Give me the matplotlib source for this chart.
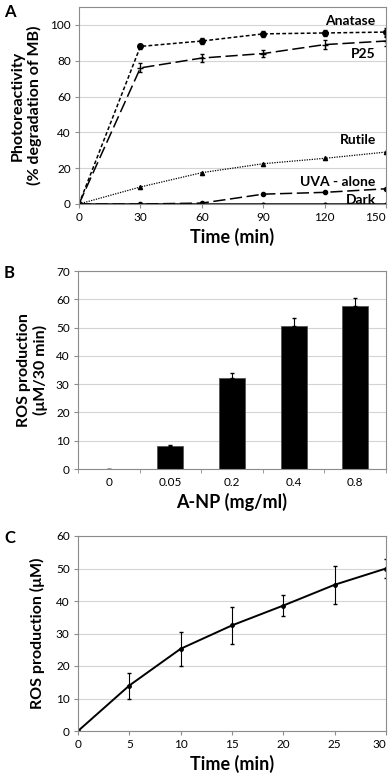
import matplotlib
matplotlib.use("Agg")
import matplotlib.pyplot as plt

plt.rcParams['font.family'] = ['Lato', 'DejaVu Sans']

# panel A data
time_a = [0, 30, 60, 90, 120, 150]
anatase = [0, 88, 91, 95, 95.5, 96]
anatase_err = [0, 1.2, 1.5, 1.5, 1.5, 2]
p25 = [0, 76, 81.5, 84, 89, 91]
p25_err = [0, 2.5, 2, 2, 2.5, 2.5]
rutile = [0, 9.5, 17.5, 22.5, 25.5, 29]
uva = [0, 0, 0.5, 5.5, 6.5, 8.5]
dark = [0, 0, 0, 0, 0, 0]

# panel B data
conc_labels = ['0', '0.05', '0.2', '0.4', '0.8']
ros_conc = [0, 8, 32.3, 50.7, 57.6]
ros_conc_err = [0, 0.5, 1.6, 2.6, 2.9]

# panel C data
time_c = [0, 5, 10, 15, 20, 25, 30]
ros_time = [0, 14, 25.3, 32.5, 38.6, 45, 50]
ros_time_err = [0, 4, 5.3, 5.7, 3.2, 5.8, 2.9]

W, H = 392, 780
fig = plt.figure(figsize=(W / 100, H / 100), dpi=100)

XL = 13      # x-label size
YL = 11.5    # y-label size
TK = 8.5     # tick size


def box(l, t, r, b):
    return [l / W, 1 - b / H, (r - l) / W, (b - t) / H]


def style(ax):
    for s in ax.spines.values():
        s.set_color('#8c8c8c')
        s.set_linewidth(0.8)
    ax.yaxis.grid(True, color='#d4d4d4', linewidth=0.8)
    ax.set_axisbelow(True)
    ax.tick_params(labelsize=TK, length=3, color='#8c8c8c', pad=3)


def push_last_left(ax):
    fig.canvas.draw()
    ax.get_xticklabels()[-1].set_ha('right')


# ---- A ----
ax = fig.add_axes(box(79, 7, 386, 204))
style(ax)
ax.errorbar(time_a, anatase, yerr=anatase_err, color='black', linestyle=(0, (2.5, 1.5)),
            marker='o', markersize=4, linewidth=1.1, capsize=1.5, elinewidth=0.8)
ax.errorbar(time_a, p25, yerr=p25_err, color='black', linestyle=(0, (8, 3)),
            marker='+', markersize=4, linewidth=1.1, capsize=1.5, elinewidth=0.8)
ax.plot(time_a, rutile, color='black', linestyle=(0, (1, 1)), marker='^',
        markersize=3, linewidth=0.9)
ax.plot(time_a, uva, color='black', linestyle=(0, (8, 3)), marker='o',
        markersize=3, linewidth=1.1)
ax.plot(time_a, dark, color='black', linestyle='-', marker='o',
        markersize=2, linewidth=1.1)
ax.set_xlim(0, 150)
ax.set_ylim(0, 110)
ax.set_xticks(time_a)
ax.set_yticks(range(0, 101, 20))
ax.set_xlabel('Time (min)', fontsize=XL, fontweight='bold', labelpad=3)
ax.set_ylabel('Photoreactivity\n(% degradation of MB)', fontsize=YL,
              fontweight='bold', labelpad=6, linespacing=1.15)
for txt, y in [('Anatase', 102), ('P25', 84), ('Rutile', 35.5),
               ('UVA - alone', 12.5), ('Dark', 2)]:
    ax.text(145, y, txt, ha='right', va='center', fontsize=10, fontweight='bold')
push_last_left(ax)
fig.text(4 / W, 1 - 12 / H, 'A', fontsize=12, fontweight='bold', va='center')

# ---- B ----
ax = fig.add_axes(box(78, 271, 386, 469))
style(ax)
xs = range(len(conc_labels))
ax.bar(xs, ros_conc, width=0.42, color='black', edgecolor='#555555', linewidth=0.6,
       yerr=[[0] * len(ros_conc_err), ros_conc_err], capsize=1.5,
       error_kw=dict(elinewidth=0.8, ecolor='black'))
ax.set_xlim(-0.5, 4.5)
ax.set_ylim(0, 70)
ax.set_xticks(list(xs))
ax.set_xticklabels(conc_labels)
ax.set_xticks([i + 0.5 for i in range(-1, 5)], minor=True)
ax.tick_params(axis='x', which='major', length=0, pad=6)
ax.tick_params(axis='x', which='minor', length=3, color='#8c8c8c')
ax.set_yticks(range(0, 71, 10))
ax.set_xlabel('A-NP (mg/ml)', fontsize=XL, fontweight='bold', labelpad=3)
ax.set_ylabel('ROS production\n(\u03bcM/30 min)', fontsize=YL,
              fontweight='bold', labelpad=6, linespacing=1.15)
fig.text(4 / W, 1 - 273 / H, 'B', fontsize=12, fontweight='bold', va='center')

# ---- C ----
ax = fig.add_axes(box(78, 536, 386, 731))
style(ax)
ax.errorbar(time_c, ros_time, yerr=ros_time_err, color='black', marker='o',
            markersize=2.5, linewidth=1.4, capsize=1.5, elinewidth=0.8)
ax.set_xlim(0, 30)
ax.set_ylim(0, 60)
ax.set_xticks(time_c)
ax.set_yticks(range(0, 61, 10))
ax.set_xlabel('Time (min)', fontsize=XL, fontweight='bold', labelpad=3)
ax.set_ylabel('ROS production (\u03bcM)', fontsize=YL, fontweight='bold', labelpad=8)
push_last_left(ax)
fig.text(4 / W, 1 - 538 / H, 'C', fontsize=12, fontweight='bold', va='center')

fig.savefig('out.png', dpi=100)
